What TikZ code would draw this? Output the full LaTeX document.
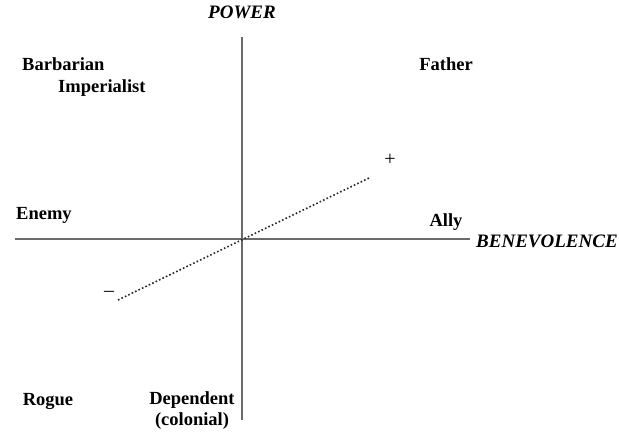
\documentclass[tikz,border=0pt]{standalone}
\usepackage{fontspec}
\setmainfont{Liberation Serif}
\usepackage{tikz}
\usetikzlibrary{positioning}

\begin{document}
\begin{tikzpicture}[
    x=1pt, y=-1pt,
    font=\fontsize{18.5}{21}\selectfont\bfseries,
    lbl/.style={inner sep=0pt, align=center},
    axislbl/.style={inner sep=0pt, font=\fontsize{19}{21}\selectfont\bfseries\itshape},
    sign/.style={inner sep=0pt, font=\fontsize{20}{22}\selectfont},
    axis/.style={draw=black!58, line width=1.8pt},
    trend/.style={draw=black!85, line width=1.6pt, dash pattern=on 1.6pt off 2.2pt}
]
\useasboundingbox (0,0) rectangle (619,432);
% axes
\coordinate (top) at (242,37);
\coordinate (bottom) at (242,420);
\coordinate (left) at (15,239);
\coordinate (right) at (470,239);
\coordinate (neg) at (118,300);
\coordinate (pos) at (369,178);
\draw[axis] (top) -- (bottom);
\draw[axis] (left) -- (right);
\draw[trend] (neg) -- (pos);

\node[axislbl] (power) at (242,12) {POWER};
\node[axislbl, anchor=west] (benev) at (476,241) {BENEVOLENCE};

\node[lbl, anchor=west] (barb) at (22,64) {Barbarian};
\node[lbl, anchor=west] (imp) at (58,88) {Imperialist};
\node[lbl] (father) at (446,64) {Father};
\node[lbl] (enemy) at (44,215) {Enemy};
\node[lbl] (ally) at (446,222) {Ally};
\node[lbl] (rogue) at (48,401) {Rogue};
\node[lbl] (dep) at (192,400) {Dependent};
\node[lbl] (col) at (192,421) {(colonial)};

\node[sign] (plus) at (390,160) {+};
\node[sign] (minus) at (109,294) {--};
\end{tikzpicture}
\end{document}
